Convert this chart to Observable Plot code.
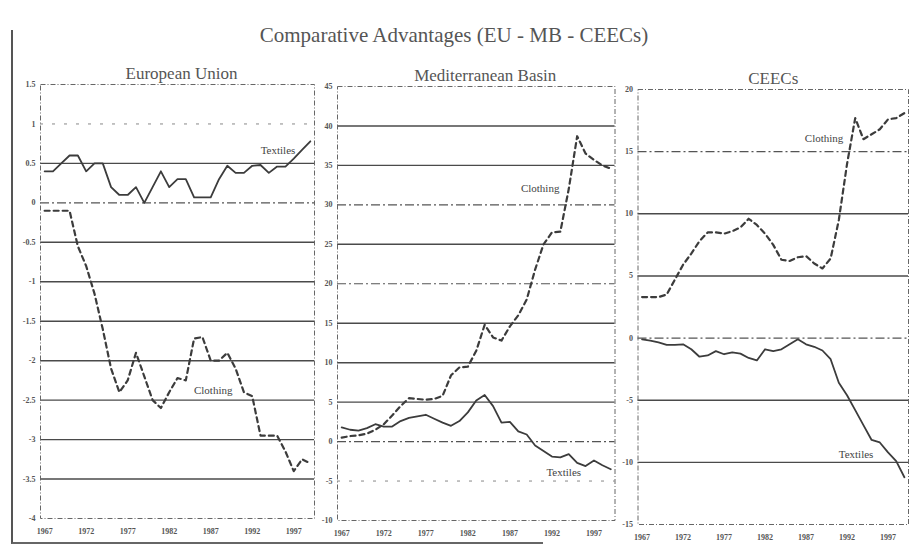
<!DOCTYPE html>
<html>
<head>
<meta charset="utf-8">
<script src="https://cdn.jsdelivr.net/npm/d3@7"></script>
<script src="https://cdn.jsdelivr.net/npm/@observablehq/plot@0.6"></script>
<style>
  html, body { margin: 0; padding: 0; background: #fff; }
  #root { position: relative; width: 911px; height: 548px; overflow: hidden;
          font-family: "Liberation Serif", "DejaVu Serif", serif; color: #4a4a4a; background: #fff; }
  #title { position: absolute; left: 0; width: 908px; top: 25px; text-align: center;
           font-family: "Liberation Serif", serif; font-size: 21px; line-height: 21px; color: #555; }
  #border { position: absolute; left: 11px; top: 30px; width: 530px; height: 512px;
            border-left: 2px solid #555; border-bottom: 2px solid #666; }
</style>
</head>
<body>
<div id="root">
  <div id="border"></div>
  <div id="title">Comparative Advantages (EU - MB - CEECs)</div>
</div>
<script>
// ---------- data ----------
const years = d3.range(1967, 2000);            // 1967 … 1999
const xTicks = [1967, 1972, 1977, 1982, 1987, 1992, 1997];

const panelTitles = ["European Union", "Mediterranean Basin", "CEECs"];

const euTicks = [1.5, 1, 0.5, 0, -0.5, -1, -1.5, -2, -2.5, -3, -3.5, -4];
const mbTicks = [45, 40, 35, 30, 25, 20, 15, 10, 5, 0, -5, -10];
const ceTicks = [20, 15, 10, 5, 0, -5, -10, -15];

const euTextiles = [0.4, 0.4, 0.5, 0.6, 0.6, 0.4, 0.5, 0.5, 0.2, 0.1, 0.1, 0.2, 0.0, 0.2, 0.4, 0.2, 0.3,
                    0.3, 0.07, 0.07, 0.07, 0.3, 0.47, 0.38, 0.38, 0.47, 0.48, 0.38, 0.46, 0.46, 0.56, 0.67, 0.78];
const euClothing = [-0.1, -0.1, -0.1, -0.1, -0.55, -0.8, -1.15, -1.6, -2.1, -2.4, -2.25, -1.9, -2.2, -2.5, -2.6, -2.4, -2.22,
                    -2.25, -1.72, -1.7, -2.0, -2.0, -1.9, -2.1, -2.4, -2.45, -2.95, -2.95, -2.95, -3.15, -3.4, -3.25, -3.3];

const mbTextiles = [1.8, 1.5, 1.4, 1.7, 2.2, 1.9, 1.9, 2.6, 3.0, 3.2, 3.4, 2.9, 2.4, 2.0, 2.6, 3.7, 5.2,
                    5.9, 4.5, 2.4, 2.5, 1.3, 0.9, -0.5, -1.2, -1.9, -2.0, -1.6, -2.7, -3.1, -2.4, -3.0, -3.5];
const mbClothing = [0.5, 0.7, 0.8, 1.0, 1.5, 2.2, 3.3, 4.5, 5.5, 5.4, 5.3, 5.4, 5.8, 8.4, 9.4, 9.5, 11.5,
                    14.8, 13.2, 12.8, 14.6, 16.0, 18.0, 21.8, 25.0, 26.5, 26.6, 32.0, 38.7, 36.5, 35.7, 35.0, 34.6];

const ceTextiles = [-0.1, -0.2, -0.35, -0.55, -0.55, -0.5, -0.9, -1.5, -1.4, -1.05, -1.3, -1.15, -1.25, -1.6, -1.8, -0.9, -1.05,
                    -0.9, -0.5, -0.1, -0.5, -0.7, -1.0, -1.7, -3.6, -4.6, -5.8, -7.0, -8.2, -8.4, -9.2, -9.9, -11.2];
const ceClothing = [3.3, 3.3, 3.3, 3.5, 4.7, 5.9, 6.8, 7.8, 8.5, 8.5, 8.4, 8.6, 8.9, 9.6, 9.1, 8.4, 7.5,
                    6.3, 6.2, 6.5, 6.6, 6.0, 5.6, 6.4, 9.5, 14.0, 17.7, 16.0, 16.4, 16.8, 17.6, 17.7, 18.1];

// series label anchors (year, value)
const euLabels = [{name: "Textiles", year: 1995.1, value: 0.66}, {name: "Clothing", year: 1987.3, value: -2.38}];
const mbLabels = [{name: "Clothing", year: 1990.6, value: 32.1}, {name: "Textiles", year: 1993.4, value: -3.9}];
const ceLabels = [{name: "Clothing", year: 1989.2, value: 16.1}, {name: "Textiles", year: 1993.1, value: -9.36}];

// ---------- rendering ----------
const ink = "#3c3c3c";
function table(values) { return years.map((yr, i) => ({year: yr, value: values[i]})); }

function panel(cfg) {
  const yMin = d3.min(cfg.ticks), yMax = d3.max(cfg.ticks);
  const inner = cfg.ticks.filter(t => t !== yMin && t !== yMax);
  const solid = inner.filter(t => !cfg.dashed.includes(t) && !cfg.faint.includes(t));
  const dashed = inner.filter(t => cfg.dashed.includes(t));
  const faint = inner.filter(t => cfg.faint.includes(t));
  const svg = Plot.plot({
    width: cfg.width, height: 495,
    marginLeft: cfg.ml, marginRight: cfg.mr, marginTop: cfg.mt, marginBottom: cfg.mb,
    x: {domain: [1966.5, 1999.5]},
    y: {domain: [yMin, yMax]},
    style: {background: "transparent", overflow: "visible", fontFamily: "Liberation Serif, serif",
            fontSize: "8px", color: "#444"},
    marks: [
      Plot.ruleY(solid, {stroke: "#4a4a4a", strokeWidth: 1.4}),
      Plot.ruleY(dashed, {stroke: "#555", strokeWidth: 1.2, strokeDasharray: "9,3,2,3"}),
      Plot.ruleY(faint, {stroke: "#888", strokeWidth: 1, strokeDasharray: "3,9"}),
      Plot.frame({stroke: "#666", strokeWidth: 1, strokeDasharray: "5,2,1,2"}),
      Plot.axisY({ticks: cfg.ticks, tickSize: 0, tickPadding: 5, tickFormat: d => String(d), label: null,
                  fontWeight: "bold", fill: "#555"}),
      Plot.axisX({ticks: xTicks, tickSize: 0, tickPadding: 10, tickFormat: d => String(d), label: null,
                  fontWeight: "bold", fill: "#555"}),
      Plot.line(table(cfg.textiles), {x: "year", y: "value", stroke: ink, strokeWidth: 1.8}),
      Plot.line(table(cfg.clothing), {x: "year", y: "value", stroke: ink, strokeWidth: 2.2, strokeDasharray: "5,4"}),
      Plot.text(cfg.labels, {x: "year", y: "value", text: "name", fontSize: 11, fill: "#444"}),
      Plot.text([cfg.title], {frameAnchor: "top", text: d => d, dy: -6, dx: cfg.tdx, lineAnchor: "bottom",
                              fontSize: 17, fill: "#555"})
    ]
  });
  svg.style.left = cfg.left + "px";
  svg.style.top = "50px";
  svg.style.position = "absolute";
  document.getElementById("root").appendChild(svg);
}

panel({title: panelTitles[0], ticks: euTicks, textiles: euTextiles, clothing: euClothing, labels: euLabels,
       left: 0, width: 320, ml: 40, mr: 6, mt: 34, mb: 27, tdx: 4, dashed: [0], faint: [1]});
panel({title: panelTitles[1], ticks: mbTicks, textiles: mbTextiles, clothing: mbClothing, labels: mbLabels,
       left: 300, width: 316, ml: 37, mr: 1.5, mt: 36, mb: 25, tdx: 9, dashed: [30, 20, 0], faint: [-5]});
panel({title: panelTitles[2], ticks: ceTicks, textiles: ceTextiles, clothing: ceClothing, labels: ceLabels,
       left: 600, width: 311, ml: 37.5, mr: 3, mt: 39, mb: 21, tdx: 0, dashed: [15, 0], faint: []});
</script>
</body>
</html>
